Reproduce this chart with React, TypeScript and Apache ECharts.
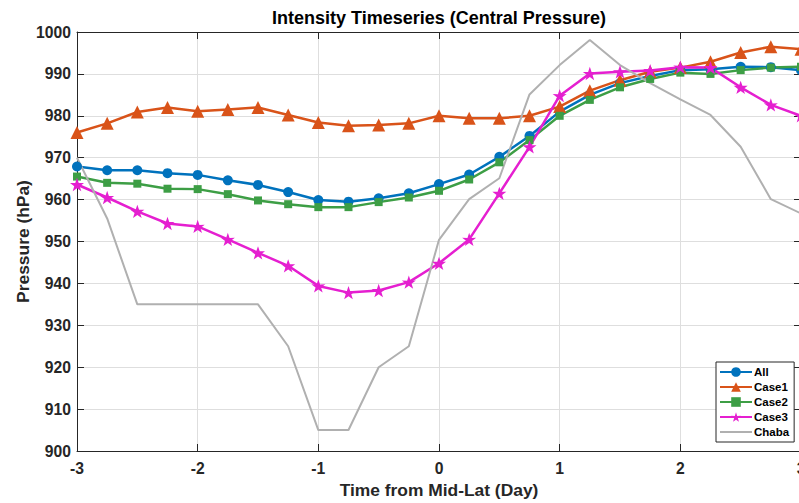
import React, { useEffect, useRef } from "react";
import * as echarts from "echarts";

const days = [-3, -2.75, -2.5, -2.25, -2, -1.75, -1.5, -1.25, -1, -0.75, -0.5, -0.25, 0, 0.25, 0.5, 0.75, 1, 1.25, 1.5, 1.75, 2, 2.25, 2.5, 2.75, 3];
const allVals = [967.9, 967.0, 967.0, 966.3, 965.9, 964.6, 963.5, 961.8, 959.9, 959.5, 960.3, 961.5, 963.7, 966.0, 970.2, 975.2, 981.0, 985.0, 987.8, 989.5, 990.9, 991.1, 991.7, 991.6, 990.9];
const case1Vals = [976.0, 978.2, 980.9, 982.0, 981.1, 981.5, 982.0, 980.2, 978.4, 977.6, 977.8, 978.2, 980.0, 979.4, 979.4, 980.0, 982.2, 986.0, 988.5, 990.5, 991.5, 992.9, 995.1, 996.5, 995.9];
const case2Vals = [965.5, 964.0, 963.8, 962.6, 962.5, 961.3, 959.8, 958.9, 958.2, 958.2, 959.4, 960.5, 962.1, 964.8, 968.9, 974.2, 980.0, 983.8, 986.8, 988.8, 990.3, 990.0, 990.9, 991.5, 991.7];
const case3Vals = [963.6, 960.5, 957.2, 954.3, 953.6, 950.5, 947.3, 944.2, 939.4, 937.8, 938.3, 940.3, 944.8, 950.5, 961.5, 972.6, 984.8, 990.1, 990.5, 990.8, 991.6, 991.5, 986.8, 982.6, 980.0];
const chabaVals = [970, 955.5, 935, 935, 935, 935, 935, 925, 905, 905, 920, 925, 950.4, 960.1, 965.1, 985.1, 992.1, 998.1, 992.1, 987.8, 983.9, 980.2, 972.6, 960.1, 956.7];

const seriesNames = ["All", "Case1", "Case2", "Case3", "Chaba"];
const xTicks = { min: -3, max: 3, interval: 1 };
const yTicks = { min: 900, max: 1000, interval: 10 };

const FONT = "'Liberation Sans', Arial, Helvetica, sans-serif";
const AXIS_COLOR = "#262626";
const GRID_COLOR = "#dedede";
const STAR = "path://M50,0 L61.8,35.1 L97.6,34.5 L68.8,56.2 L79.4,90.5 L50,70 L20.6,90.5 L31.2,56.2 L2.4,34.5 L38.2,35.1 Z";

const pairs = (vals: number[]) => days.map((d, i) => [d, vals[i]]);

export default function App() {
  const ref = useRef<HTMLDivElement>(null);
  useEffect(() => {
    if (!ref.current) return;
    const chart = echarts.init(ref.current, undefined, { renderer: "svg" });
    const tickLabel = { fontSize: 15.7, fontWeight: "bold" as const, color: AXIS_COLOR, fontFamily: FONT };
    const nameStyle = { fontSize: 17.4, fontWeight: "bold" as const, color: AXIS_COLOR, fontFamily: FONT };
    const mkLine = (name: string, vals: number[], color: string, symbol: string, size: number, width: number) => ({
      name,
      type: "line",
      xAxisIndex: 0,
      yAxisIndex: 0,
      data: pairs(vals),
      symbol,
      symbolSize: size,
      symbolKeepAspect: true,
      showSymbol: symbol !== "none",
      lineStyle: { color, width },
      itemStyle: { color, borderWidth: 0 },
      emphasis: { disabled: true },
    });
    chart.setOption({
      animation: false,
      grid: { left: 77, top: 32, width: 724, height: 419, containLabel: false, outerBoundsMode: "none" },
      graphic: [
        {
          type: "text",
          x: 439,
          y: 18,
          style: {
            text: "Intensity Timeseries (Central Pressure)",
            fontSize: 18,
            fontWeight: "bold",
            fontFamily: FONT,
            fill: "#000",
            align: "center",
            verticalAlign: "middle",
          },
        },
        {
          type: "text",
          x: 23,
          y: 241.5,
          rotation: Math.PI / 2,
          style: {
            text: "Pressure (hPa)",
            fontSize: 17.4,
            fontWeight: "bold",
            fontFamily: FONT,
            fill: AXIS_COLOR,
            align: "center",
            verticalAlign: "middle",
          },
        },
      ],
      legend: {
        orient: "vertical",
        left: 716,
        top: 362,
        padding: [4, 5, 4, 3],
        itemWidth: 32,
        itemHeight: 12,
        itemGap: 3,
        backgroundColor: "#fff",
        borderColor: AXIS_COLOR,
        borderWidth: 1,
        borderRadius: 0,
        textStyle: { fontSize: 11.5, fontWeight: "bold", color: "#000", fontFamily: FONT, padding: [0, 0, 0, -3], lineHeight: 12 },
        data: [
          "All",
          "Case1",
          "Case2",
          "Case3",
          { name: seriesNames[4], itemStyle: { opacity: 0 } },
        ],
      },
      xAxis: [
        {
          type: "value",
          position: "bottom",
          ...xTicks,
          name: "Time from Mid-Lat (Day)",
          nameLocation: "middle",
          nameGap: 30,
          nameTextStyle: nameStyle,
          axisLine: { show: true, onZero: false, lineStyle: { color: AXIS_COLOR, width: 1 } },
          axisTick: { show: true, inside: true, length: 7, lineStyle: { color: AXIS_COLOR } },
          axisLabel: { ...tickLabel, margin: 9 },
          splitLine: { show: true, lineStyle: { color: GRID_COLOR, width: 1 } },
        },
        {
          type: "value",
          position: "top",
          ...xTicks,
          axisLine: { show: true, onZero: false, lineStyle: { color: AXIS_COLOR, width: 1 } },
          axisTick: { show: true, inside: true, length: 7, lineStyle: { color: AXIS_COLOR } },
          axisLabel: { show: false },
          splitLine: { show: false },
        },
      ],
      yAxis: [
        {
          type: "value",
          position: "left",
          ...yTicks,
          axisLine: { show: true, onZero: false, lineStyle: { color: AXIS_COLOR, width: 1 } },
          axisTick: { show: true, inside: true, length: 7, lineStyle: { color: AXIS_COLOR } },
          axisLabel: { ...tickLabel, margin: 6, formatter: (v: number) => String(v) },
          splitLine: { show: true, lineStyle: { color: GRID_COLOR, width: 1 } },
        },
        {
          type: "value",
          position: "right",
          ...yTicks,
          axisLine: { show: true, onZero: false, lineStyle: { color: AXIS_COLOR, width: 1 } },
          axisTick: { show: true, inside: true, length: 7, lineStyle: { color: AXIS_COLOR } },
          axisLabel: { show: false },
          splitLine: { show: false },
        },
      ],
      series: [
        mkLine("All", allVals, "#0072BD", "circle", 10, 2.5),
        mkLine("Case1", case1Vals, "#D95319", "triangle", 13, 2.5),
        mkLine("Case2", case2Vals, "#3d9e45", "rect", 8, 2.5),
        mkLine("Case3", case3Vals, "#e51fd0", STAR, 14, 2.5),
        mkLine("Chaba", chabaVals, "#b0b0b0", "none", 0, 2),
      ],
    });
    return () => chart.dispose();
  }, []);
  return <div ref={ref} style={{ position: "absolute", left: 0, top: 0, width: 799, height: 503 }} />;
}
